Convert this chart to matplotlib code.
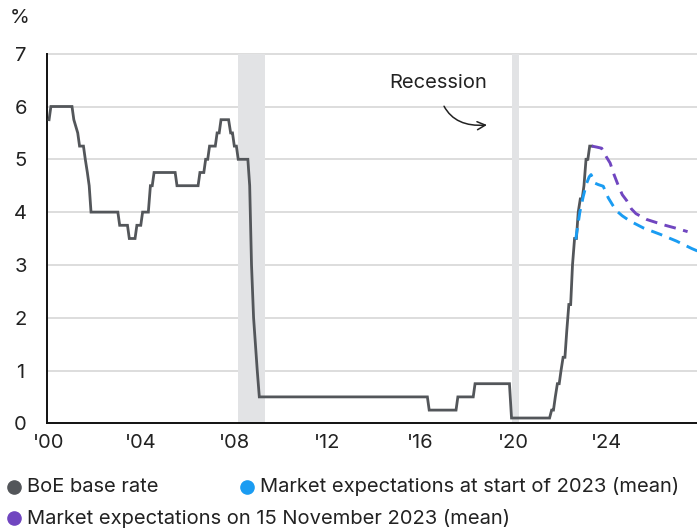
import matplotlib.pyplot as plt
from matplotlib.lines import Line2D

plt.rcParams['font.family'] = ['Inter', 'DejaVu Sans']

# BoE base rate (%), decimal years
base_x = [2000.00, 2000.08, 2001.00, 2001.08, 2001.25, 2001.33, 2001.50, 2001.58,
          2001.67, 2001.75, 2001.83, 2003.00, 2003.08, 2003.42, 2003.50, 2003.75,
          2003.83, 2004.00, 2004.08, 2004.33, 2004.42, 2004.50, 2004.58, 2005.50,
          2005.58, 2006.50, 2006.58, 2006.75, 2006.83, 2006.92, 2007.00, 2007.25,
          2007.33, 2007.42, 2007.50, 2007.83, 2007.92, 2008.00, 2008.08, 2008.17,
          2008.25, 2008.67, 2008.75, 2008.83, 2008.92, 2009.00, 2009.08, 2009.17,
          2016.50, 2016.58, 2017.75, 2017.83, 2018.50, 2018.58, 2020.08, 2020.17,
          2021.83, 2021.92, 2022.00, 2022.08, 2022.17, 2022.25, 2022.33, 2022.42,
          2022.50, 2022.58, 2022.67, 2022.75, 2022.83, 2022.92, 2023.00, 2023.08,
          2023.17, 2023.25, 2023.33, 2023.42, 2023.50, 2023.58, 2023.67]
base_y = [5.75, 6.00, 6.00, 5.75, 5.50, 5.25, 5.25, 5.00,
          4.75, 4.50, 4.00, 4.00, 3.75, 3.75, 3.50, 3.50,
          3.75, 3.75, 4.00, 4.00, 4.50, 4.50, 4.75, 4.75,
          4.50, 4.50, 4.75, 4.75, 5.00, 5.00, 5.25, 5.25,
          5.50, 5.50, 5.75, 5.75, 5.50, 5.50, 5.25, 5.25,
          5.00, 5.00, 4.50, 3.00, 2.00, 1.50, 1.00, 0.50,
          0.50, 0.25, 0.25, 0.50, 0.50, 0.75, 0.75, 0.10,
          0.10, 0.25, 0.25, 0.50, 0.75, 0.75, 1.00, 1.25,
          1.25, 1.75, 2.25, 2.25, 3.00, 3.50, 3.50, 4.00,
          4.25, 4.25, 4.50, 5.00, 5.00, 5.25, 5.25]

# market expectations at start of 2023 (mean)
start23_x = [2022.97, 2023.15, 2023.30, 2023.45, 2023.56, 2023.64, 2023.80, 2023.96,
             2024.17, 2024.39, 2024.60, 2024.76, 2025.00, 2025.34, 2025.92, 2026.65,
             2027.37, 2028.03, 2028.30]
start23_y = [3.48, 4.00, 4.30, 4.55, 4.67, 4.71, 4.55, 4.52,
             4.49, 4.27, 4.12, 4.02, 3.93, 3.83, 3.70, 3.58,
             3.45, 3.31, 3.26]

# market expectations on 15 November 2023 (mean)
nov23_x = [2023.67, 2023.90, 2024.10, 2024.30, 2024.47, 2024.65, 2024.83, 2025.00,
           2025.19, 2025.40, 2025.60, 2026.07, 2026.79, 2027.30, 2027.85]
nov23_y = [5.25, 5.23, 5.21, 5.05, 4.93, 4.70, 4.50, 4.33,
           4.22, 4.06, 3.97, 3.86, 3.76, 3.70, 3.63]

recessions = [(2008.25, 2009.42), (2020.17, 2020.50)]

tick_years = [2000, 2004, 2008, 2012, 2016, 2020, 2024]
tick_labels = ["'00", "'04", "'08", "'12", "'16", "'20", "'24"]
# labels in the source sit on a slightly wider spacing than the data
tick_pos = [2000 + (y - 2000) * 1.014 - 0.04 for y in tick_years]

c_base = '#53565a'
c_blue = '#1a9cf2'
c_purple = '#7046c0'
c_text = '#222222'
fs = 14.5

fig = plt.figure(figsize=(6.97, 5.29), dpi=100)
ax = fig.add_axes([47 / 697, 1 - 423.3 / 529, 650 / 697, (423.3 - 53.7) / 529])

for a, b in recessions:
    ax.axvspan(a, b, color='#e2e3e5', lw=0, zorder=1)

for v in range(1, 8):
    ax.axhline(v, color='#d3d3d3', lw=1.1, zorder=0.5, clip_on=False)

ax.plot(base_x, base_y, color=c_base, lw=2.0, zorder=3, solid_joinstyle='miter')
ax.plot(start23_x, start23_y, color=c_blue, lw=2.1, ls=(0, (4, 2.6)), zorder=4)
ax.plot(nov23_x, nov23_y, color=c_purple, lw=2.1, ls=(0, (4, 2.6)), zorder=4)

ax.set_xlim(1999.91, 2028.26)
ax.set_ylim(0, 7)
ax.set_xticks(tick_pos)
ax.set_xticklabels(tick_labels)
ax.set_yticks(range(0, 8))
ax.tick_params(axis='both', length=0, labelsize=fs, colors=c_text)
ax.tick_params(axis='x', pad=8)
ax.tick_params(axis='y', pad=19)
for lab in ax.get_yticklabels():
    lab.set_horizontalalignment('center')
for s in ['top', 'right']:
    ax.spines[s].set_visible(False)
ax.spines['left'].set_color('#111111')
ax.spines['bottom'].set_color('#111111')
ax.spines['left'].set_linewidth(1.4)
ax.spines['bottom'].set_linewidth(1.4)

ax.annotate('Recession', xy=(2019.1, 5.65), xytext=(2016.96, 6.45),
            ha='center', va='center', fontsize=fs, color=c_text,
            arrowprops=dict(arrowstyle='->', color=c_text, lw=1.1,
                            shrinkA=9, shrinkB=0,
                            connectionstyle='arc3,rad=0.5'))

fig.text(20 / 697, 1 - 18 / 529, '%', fontsize=fs, ha='center', va='center', color=c_text)

# legend
legend_items = [(14, 487, c_base, 'BoE base rate'),
                (247, 487, c_blue, 'Market expectations at start of 2023 (mean)'),
                (14, 518, c_purple, 'Market expectations on 15 November 2023 (mean)')]
for px, py, col, txt in legend_items:
    fig.add_artist(Line2D([px / 697], [1 - py / 529], marker='o', markersize=9.5,
                          color=col, transform=fig.transFigure, ls='none'))
    fig.text((px + 13) / 697, 1 - py / 529, txt, fontsize=fs, va='center', ha='left',
             color=c_text)

fig.savefig('out.png', dpi=100)
